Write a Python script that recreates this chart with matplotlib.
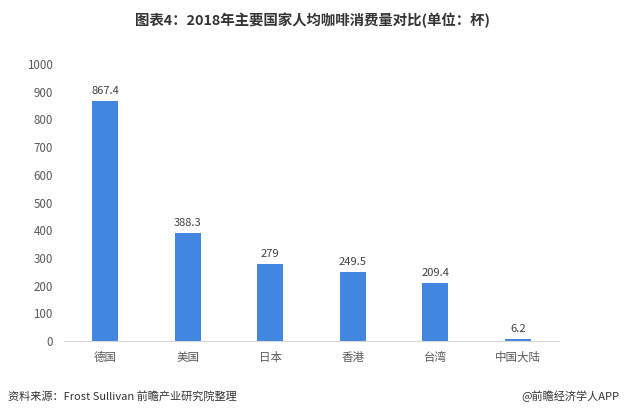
import matplotlib.pyplot as plt

plt.rcParams['font.family'] = ['Noto Sans CJK SC', 'DejaVu Sans']

regions = ['德国', '美国', '日本', '香港', '台湾', '中国大陆']
cups = [867.4, 388.3, 279, 249.5, 209.4, 6.2]
labels = ['867.4', '388.3', '279', '249.5', '209.4', '6.2']

fig = plt.figure(figsize=(6.25, 4.18), dpi=100)
ax = fig.add_axes([64 / 625, 1 - 341 / 418, 495 / 625, 277 / 418])

x = range(len(regions))
ax.bar(x, cups, width=0.32, color='#4186E0')
for i, v in enumerate(cups):
    ax.text(i, v + 18, labels[i], ha='center', va='bottom', fontsize=8, color='#404040')

ax.set_xlim(-0.5, len(regions) - 0.5)
ax.set_ylim(0, 1000)
ax.set_yticks(range(0, 1001, 100))
ax.set_xticks(list(x))
ax.set_xticklabels(regions)
ax.tick_params(axis='both', length=0, labelsize=8.3, colors='#595959')
ax.tick_params(axis='y', pad=8)
ax.tick_params(axis='x', pad=7)
for s in ['top', 'right', 'left']:
    ax.spines[s].set_visible(False)
ax.spines['bottom'].set_color('#D9D9D9')

fig.text(0.5, 1 - 20 / 418, '图表4：2018年主要国家人均咖啡消费量对比(单位：杯)', ha='center', va='center',
         fontsize=10.4, fontweight='bold', color='#333333')
fig.text(8 / 625, 1 - 396 / 418, '资料来源：Frost Sullivan 前瞻产业研究院整理', ha='left', va='center',
         fontsize=8, color='#333333')
fig.text(619 / 625, 1 - 396 / 418, '@前瞻经济学人APP', ha='right', va='center',
         fontsize=8, color='#333333')

fig.savefig('out.png', dpi=100)
